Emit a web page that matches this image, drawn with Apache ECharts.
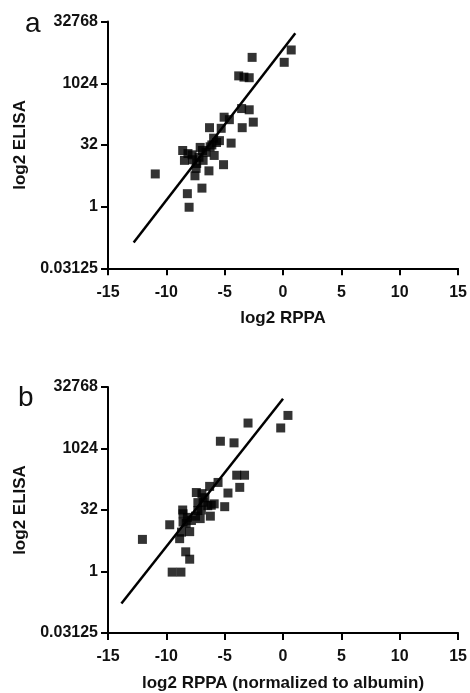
<!DOCTYPE html>
<html>
<head>
<meta charset="utf-8">
<script src="https://cdn.jsdelivr.net/npm/echarts@6/dist/echarts.min.js"></script>
<style>html,body{margin:0;padding:0;background:#fff;}#c{width:470px;height:693px;}</style>
</head>
<body>
<div id="c"></div>
<script>
// Panel a: log2 RPPA vs log2 ELISA
var rppaA  = [0.7, 0.1, -2.65, -3.8, -3.35, -2.9, -3.55, -2.9, -2.55, -3.5, -5.05, -4.6, -5.3, -6.3, -4.45, -5.45, -5.95, -5.7, -6.25, -6.6, -7.1, -5.9, -5.1, -6.35, -8.6, -8.15, -8.45, -7.8, -6.9, -7.4, -7.45, -7.55, -6.95, -8.2, -8.05, -10.95, -7.2, -7.75, -6.85, -6.1];
var elisaA = [12.7, 11.7, 12.1, 10.6, 10.5, 10.45, 7.95, 7.85, 6.85, 6.4, 7.25, 7.05, 6.35, 6.4, 5.15, 5.35, 5.55, 5.2, 4.85, 4.4, 4.8, 4.15, 3.4, 2.9, 4.55, 4.3, 3.75, 4.2, 4.55, 3.5, 3.1, 2.5, 1.5, 1.05, -0.05, 2.65, 4.0, 3.8, 3.75, 5.0];
var fitA = [[-12.8, -2.9], [1.05, 14.05]];

// Panel b: log2 RPPA (normalized to albumin) vs log2 ELISA
var rppaB  = [0.42, -0.2, -3.0, -5.37, -4.2, -3.97, -3.3, -3.71, -4.72, -5.0, -5.57, -6.29, -7.43, -6.95, -6.85, -6.45, -6.15, -6.23, -7.3, -7.0, -7.85, -8.57, -8.57, -9.71, -8.3, -8.0, -8.86, -8.34, -8.0, -9.5, -8.75, -12.05, -7.5, -8.2, -6.7, -7.3, -8.6, -8.7, -5.9, -7.1];
var elisaB = [12.69, 11.67, 12.07, 10.59, 10.46, 7.83, 7.83, 6.84, 6.38, 5.27, 7.24, 6.92, 6.42, 6.33, 5.63, 5.35, 5.39, 4.5, 4.95, 5.0, 4.15, 4.69, 4.02, 3.8, 3.91, 3.24, 2.67, 1.6, 1.0, -0.05, -0.05, 2.61, 4.5, 4.4, 6.0, 5.6, 5.0, 3.2, 5.5, 4.3];
var fitB = [[-13.85, -2.6], [0.0, 14.05]];

var xTicks = [-15, -10, -5, 0, 5, 10, 15];
var yTicksLog2 = [-5, 0, 5, 10, 15]; // labels: 0.03125, 1, 32, 1024, 32768

var panelLabels = ['a', 'b'];
var xNames = ['log2 RPPA', 'log2 RPPA (normalized to albumin)'];
var yName = 'log2 ELISA';

function pairs(xs, ys) { return xs.map(function (x, i) { return [x, ys[i]]; }); }

var FONT = '"Liberation Sans", Arial, Helvetica, sans-serif';
var INK = '#000';

function xAxisCfg(gi, name) {
  return {
    type: 'value', gridIndex: gi, min: xTicks[0], max: xTicks[xTicks.length - 1], interval: 5,
    name: name, nameLocation: 'middle', nameGap: 42,
    nameTextStyle: { fontFamily: FONT, fontWeight: 'bold', fontSize: 17, color: '#111' },
    axisLine: { show: true, onZero: false, lineStyle: { color: INK, width: 2 } },
    axisTick: { show: true, length: 7, lineStyle: { color: INK, width: 2 } },
    axisLabel: { margin: 16, fontFamily: FONT, fontWeight: 'bold', fontSize: 16, color: '#111', showMinLabel: true, showMaxLabel: true },
    splitLine: { show: false }
  };
}
function yAxisCfg(gi) {
  return {
    type: 'value', gridIndex: gi, min: yTicksLog2[0], max: yTicksLog2[yTicksLog2.length - 1], interval: 5,
    name: yName, nameLocation: 'middle', nameGap: 77, nameRotate: 90,
    nameTextStyle: { fontFamily: FONT, fontWeight: 'bold', fontSize: 17, color: '#111' },
    axisLine: { show: true, onZero: false, lineStyle: { color: INK, width: 2 } },
    axisTick: { show: true, length: 7, lineStyle: { color: INK, width: 2 } },
    axisLabel: { margin: 10, fontFamily: FONT, fontWeight: 'bold', fontSize: 16, color: '#111',
      formatter: function (v) { return String(Math.pow(2, v)); } },
    splitLine: { show: false }
  };
}
function scatterCfg(i, data) {
  return { type: 'scatter', xAxisIndex: i, yAxisIndex: i, data: data, symbol: 'rect', symbolSize: 9,
    itemStyle: { color: INK }, silent: true, z: 3 };
}
function fitCfg(i, data) {
  return { type: 'line', xAxisIndex: i, yAxisIndex: i, data: data, showSymbol: false, symbol: 'none',
    lineStyle: { color: INK, width: 2.5 }, silent: true, z: 2 };
}

var chart = echarts.init(document.getElementById('c'), null, { renderer: 'canvas' });
chart.setOption({
  animation: false,
  backgroundColor: '#fff',
  title: [
    { text: panelLabels[0], left: 20, top: 5, textStyle: { fontFamily: FONT, fontWeight: 'normal', fontSize: 28, color: '#111' } },
    { text: panelLabels[1], left: 13, top: 379, textStyle: { fontFamily: FONT, fontWeight: 'normal', fontSize: 28, color: '#111' } }
  ],
  grid: [
    { left: 108, top: 21.6, width: 351, height: 246.7 },
    { left: 108, top: 387, width: 350.3, height: 248.3 }
  ],
  xAxis: [xAxisCfg(0, xNames[0]), xAxisCfg(1, xNames[1])],
  yAxis: [yAxisCfg(0), yAxisCfg(1)],
  series: [
    scatterCfg(0, pairs(rppaA, elisaA)),
    fitCfg(0, fitA),
    scatterCfg(1, pairs(rppaB, elisaB)),
    fitCfg(1, fitB)
  ]
});
</script>
</body>
</html>
